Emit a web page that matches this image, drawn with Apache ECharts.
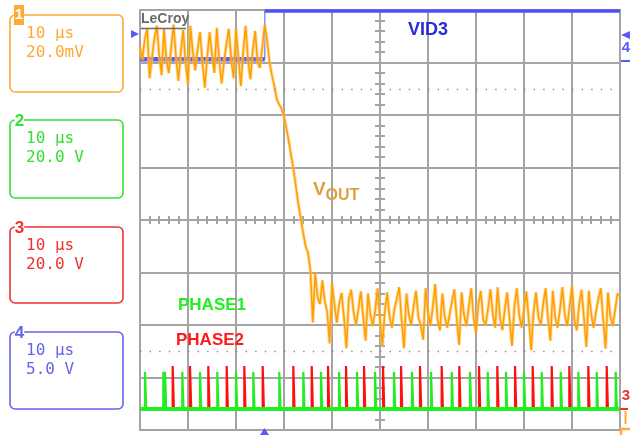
<!DOCTYPE html>
<html><head><meta charset="utf-8">
<script src="https://cdn.jsdelivr.net/npm/echarts@6/dist/echarts.min.js"></script>
<style>html,body{margin:0;padding:0;background:#fff}#c{width:636px;height:435px}</style>
</head><body><div id="c"></div>
<script>
// ---- axes (time in µs, vertical in divisions) ----
const timeMin = -50, timeMax = 50, timeInterval = 10;
const divMin = -4, divMax = 4, divInterval = 1;
const sampleStep = 0.5;

// ---- VOUT (channel 1) samples, in divisions ----
const voutPreStart = -50;
const voutPre = [3.30,3.05,3.45,3.64,2.70,3.10,3.45,3.70,3.15,2.76,3.64,3.05,2.80,3.30,3.72,3.10,2.65,3.20,3.62,3.00,
  2.58,3.70,3.20,2.85,3.25,3.58,3.00,2.52,3.10,3.58,3.15,2.80,3.66,3.05,2.60,3.00,3.35,3.64,3.05,2.70,
  3.64,3.10,2.55,3.20,3.70,3.05,2.68,3.25,3.60,3.00,2.90,3.30,3.72];
const voutFallStart = -23.5;
const voutFall = [3.40,3.00,2.75,2.55,2.30,2.20,2.12,1.98,1.75,1.50,1.22,0.95,0.62,0.30,0.02,-0.25,-0.50,-0.62,-0.95];
const voutPostStart = -14;
const voutPost = [-1.95,-1.01,-1.47,-1.60,-1.15,-1.55,-1.75,-2.35,-1.20,-1.60,-1.96,-1.60,-1.39,-1.85,-2.44,-1.50,
  -1.33,-1.75,-2.00,-1.70,-1.36,-1.85,-2.30,-1.40,-1.80,-2.02,-1.72,-1.30,-1.90,-2.40,-1.75,-1.38,
  -1.85,-2.05,-1.70,-1.50,-1.28,-1.90,-2.44,-1.40,-1.80,-2.00,-1.65,-1.35,-1.85,-2.00,-2.28,-1.30,
  -1.75,-2.02,-1.65,-1.22,-1.90,-2.10,-1.40,-1.85,-2.05,-1.80,-1.55,-1.32,-1.90,-2.38,-1.38,-1.80,
  -2.02,-1.65,-1.30,-1.85,-2.15,-1.60,-1.35,-1.90,-2.00,-1.70,-1.32,-1.80,-2.05,-1.28,-1.85,-2.10,
  -1.70,-1.38,-1.90,-2.40,-1.65,-1.30,-1.80,-2.05,-1.70,-1.36,-1.90,-2.48,-1.75,-1.38,-1.85,-2.00,
  -1.60,-1.30,-1.88,-2.30,-1.35,-1.85,-2.05,-1.70,-1.28,-1.80,-2.02,-1.65,-1.25,-1.90,-2.10,-1.60,
  -1.33,-1.88,-2.42,-1.35,-1.80,-2.05,-1.75,-1.50,-1.30,-1.90,-2.45,-1.38,-1.85,-2.02,-1.70,-1.40,-1.45];

// ---- VID3 (channel 4) ----
const vid3Times  = [-50, -24, -24, 50];
const vid3Levels = [3.06, 3.06, 3.98, 3.98];

// ---- PHASE1 / PHASE2 pulses ----
const phaseBase = -3.6;
const phase1Top = -2.89, phase2Top = -2.78, pulseWidth = 0.25;
const phase1Times = [-48.96,-45.15,-44.79,-41.19,-37.5,-33.9,-30.0,-26.4,-20.98,-15.98,-12.29,-8.54,-4.79,-1.04,
  2.92,6.67,10.63,14.94,18.75,22.44,26.25,30.0,33.69,37.65,41.31,45.15,49.1];
const phase2Times = [-43.19,-39.58,-35.77,-31.94,-28.27,-24.44,-18.06,-14.23,-10.83,-7.08,-3.33,0.63,4.38,8.33,
  12.85,16.52,20.63,24.44,28.13,31.81,35.77,39.44,43.4,47.23];

// ---- reference dotted levels ----
const dottedLevels = [2.5, -2.5];

// ---- channel boxes ----
const chLabels = ['1','2','3','4'];
const chTimebase = ['10 µs','10 µs','10 µs','10 µs'];
const chScale = ['20.0mV','20.0 V','20.0 V','5.0 V'];
const chColors = ['#ffaa33','#33e033','#f03030','#6464e8'];
const boxTops = [15, 120, 227, 332];
const boxHeights = [77, 78, 76, 77];

const traceLabels = ['VID3','V','OUT','PHASE1','PHASE2'];

function samples(start, vals){ return vals.map((v,i)=>[start + i*sampleStep, v]); }
function pulses(times, top){
  const out = [[timeMin, phaseBase]];
  times.forEach(t=>{ out.push([t,phaseBase],[t,top],[t+pulseWidth,top],[t+pulseWidth,phaseBase]); });
  out.push([timeMax, phaseBase]);
  return out;
}

const gridColor = '#a4a4a4';
const voutData = samples(voutPreStart, voutPre).concat(samples(voutFallStart, voutFall), samples(voutPostStart, voutPost));
const vid3Data = vid3Times.map((t,i)=>[t, vid3Levels[i]]);

function xAx(pos, split){
  return {type:'value', min:timeMin, max:timeMax, interval:timeInterval, position:pos,
    axisLine:{show:true, onZero:true, onZeroAxisIndex:0, lineStyle:{color:gridColor, width:2}},
    axisTick:{show:true, length:4, lineStyle:{color:gridColor, width:2}},
    minorTick:{show:true, splitNumber:5, length:4, lineStyle:{color:gridColor, width:2}},
    axisLabel:{show:false}, splitLine:{show:split, lineStyle:{color:gridColor, width:2}}};
}
function yAx(pos, split){
  return {type:'value', min:divMin, max:divMax, interval:divInterval, position:pos,
    axisLine:{show:true, onZero:true, onZeroAxisIndex:0, lineStyle:{color:gridColor, width:2}},
    axisTick:{show:true, length:5, lineStyle:{color:gridColor, width:2}},
    minorTick:{show:true, splitNumber:5, length:5, lineStyle:{color:gridColor, width:2}},
    axisLabel:{show:false}, splitLine:{show:split, lineStyle:{color:gridColor, width:2}}};
}

const mono = '16px "DejaVu Sans Mono"';
const graphics = [];
for (let i=0;i<4;i++){
  graphics.push({type:'rect', z:10, shape:{x:10, y:boxTops[i], width:113, height:boxHeights[i], r:5},
    style:{fill:'none', stroke:chColors[i], lineWidth:1.6}});
  graphics.push({type:'text', z:11, style:{text:chTimebase[i], x:26, y:boxTops[i]+19, fill:chColors[i], font:mono, verticalAlign:'middle', textVerticalAlign:'middle'}});
  graphics.push({type:'text', z:11, style:{text:chScale[i], x:26, y:boxTops[i]+38, fill:chColors[i], font:mono, verticalAlign:'middle', textVerticalAlign:'middle'}});
  if (i===0){
    graphics.push({type:'rect', z:12, shape:{x:14, y:5, width:10, height:20}, style:{fill:chColors[0]}});
    graphics.push({type:'text', z:13, style:{text:chLabels[0], x:19, y:15, fill:'#fff', font:'bold 15px "Liberation Sans"', align:'center', textAlign:'center', verticalAlign:'middle', textVerticalAlign:'middle'}});
  } else {
    graphics.push({type:'text', z:12, style:{text:chLabels[i], x:19.5, y:boxTops[i]+1, fill:chColors[i], backgroundColor:'#fff', font:'bold 17px "Liberation Sans"', align:'center', textAlign:'center', verticalAlign:'middle', textVerticalAlign:'middle'}});
  }
}
// LeCroy logo
graphics.push({type:'text', z:12, style:{text:'LeCroy', x:141, y:19.5, fill:'#6a6a6a', font:'bold 14px "Liberation Sans"', verticalAlign:'middle', textVerticalAlign:'middle'}});
graphics.push({type:'line', z:12, shape:{x1:141, y1:28.5, x2:186, y2:28.5}, style:{stroke:'#6a6a6a', lineWidth:1.5}});
// trace labels
graphics.push({type:'text', z:12, style:{text:traceLabels[0], x:408, y:30, fill:'#2a2ad8', font:'bold 18px "Liberation Sans"', verticalAlign:'middle', textVerticalAlign:'middle'}});
graphics.push({type:'text', z:12, style:{text:traceLabels[1], x:313, y:190, fill:'#e0a040', font:'bold 19px "Liberation Sans"', verticalAlign:'middle', textVerticalAlign:'middle'}});
graphics.push({type:'text', z:12, style:{text:traceLabels[2], x:325.5, y:196, fill:'#e0a040', font:'bold 16px "Liberation Sans"', verticalAlign:'middle', textVerticalAlign:'middle'}});
graphics.push({type:'text', z:12, style:{text:traceLabels[3], x:178, y:305, fill:'#22ee22', font:'bold 17px "Liberation Sans"', verticalAlign:'middle', textVerticalAlign:'middle'}});
graphics.push({type:'text', z:12, style:{text:traceLabels[4], x:176, y:340, fill:'#ff1a1a', font:'bold 17px "Liberation Sans"', verticalAlign:'middle', textVerticalAlign:'middle'}});
// channel markers
graphics.push({type:'polygon', z:12, shape:{points:[[131,30],[139,34],[131,38]]}, style:{fill:'#5a5af5'}});
graphics.push({type:'polygon', z:12, shape:{points:[[260,435],[264.5,428],[269,435]]}, style:{fill:'#5a5af5'}});
graphics.push({type:'polygon', z:12, shape:{points:[[621,35],[630,31],[630,39]]}, style:{fill:'#5a5af5'}});
graphics.push({type:'text', z:12, style:{text:chLabels[3], x:626, y:48, fill:'#5a5af5', font:'bold 15px "Liberation Sans"', align:'center', textAlign:'center', verticalAlign:'middle', textVerticalAlign:'middle'}});
graphics.push({type:'line', z:12, shape:{x1:621, y1:61, x2:630, y2:61}, style:{stroke:'#5a5af5', lineWidth:2}});
graphics.push({type:'text', z:12, style:{text:chLabels[2], x:626, y:396, fill:'#f03030', font:'bold 15px "Liberation Sans"', align:'center', textAlign:'center', verticalAlign:'middle', textVerticalAlign:'middle'}});
graphics.push({type:'line', z:12, shape:{x1:620, y1:409, x2:628, y2:409}, style:{stroke:'#f03030', lineWidth:2}});
graphics.push({type:'line', z:12, shape:{x1:625.5, y1:411, x2:625.5, y2:424}, style:{stroke:'#ffaa33', lineWidth:2}});
graphics.push({type:'polyline', z:12, shape:{points:[[621,435],[621,429],[630,429]]}, style:{stroke:'#ffaa33', lineWidth:2.5, fill:'none'}});

const chart = echarts.init(document.getElementById('c'), null, {renderer:'canvas'});
chart.setOption({
  animation:false,
  backgroundColor:'#fff',
  grid:{left:140, top:10, width:480, height:420, show:true, borderColor:gridColor, borderWidth:2, backgroundColor:'transparent'},
  xAxis:[xAx('bottom', true), xAx('top', false)],
  yAxis:[yAx('left', true), yAx('right', false)],
  series:[
    {type:'line', name:'dots', data:[], silent:true,
      markLine:{silent:true, symbol:'none', label:{show:false},
        lineStyle:{color:'#8a8a8a', width:1.4, type:[1.4, 8.2]},
        data: dottedLevels.map(v=>({yAxis:v}))}},
    {type:'line', name:'VID3 edge', data:vid3Data, showSymbol:false, symbol:'none',
      lineStyle:{color:'#8c8cff', width:1.5}, z:3},
    {type:'line', name:'VID3 low', data:vid3Data.slice(0,2), showSymbol:false, symbol:'none',
      lineStyle:{color:'#5a5af5', width:4.5}, z:3},
    {type:'line', name:'VID3 high', data:vid3Data.slice(2), showSymbol:false, symbol:'none',
      lineStyle:{color:'#5050f8', width:3.5}, z:3},
    {type:'line', name:'VOUT halo', data:voutData, showSymbol:false, symbol:'none',
      lineStyle:{color:'rgba(255,200,110,0.6)', width:3.5}, z:4},
    {type:'line', name:'VOUT', data:voutData, showSymbol:false, symbol:'none',
      lineStyle:{color:'#ffa000', width:1.6}, z:4},
    {type:'line', name:'PHASE2', data:pulses(phase2Times, phase2Top), showSymbol:false, symbol:'none',
      lineStyle:{color:'#ff1010', width:2.2}, z:5},
    {type:'line', name:'PHASE1', data:pulses(phase1Times, phase1Top), showSymbol:false, symbol:'none',
      lineStyle:{color:'#22ee22', width:2.2}, z:6},
    {type:'line', name:'PHASE1 base', data:[[timeMin, phaseBase],[timeMax, phaseBase]], showSymbol:false, symbol:'none',
      lineStyle:{color:'#22ee22', width:4}, z:6}
  ],
  graphic: graphics
});
</script></body></html>
